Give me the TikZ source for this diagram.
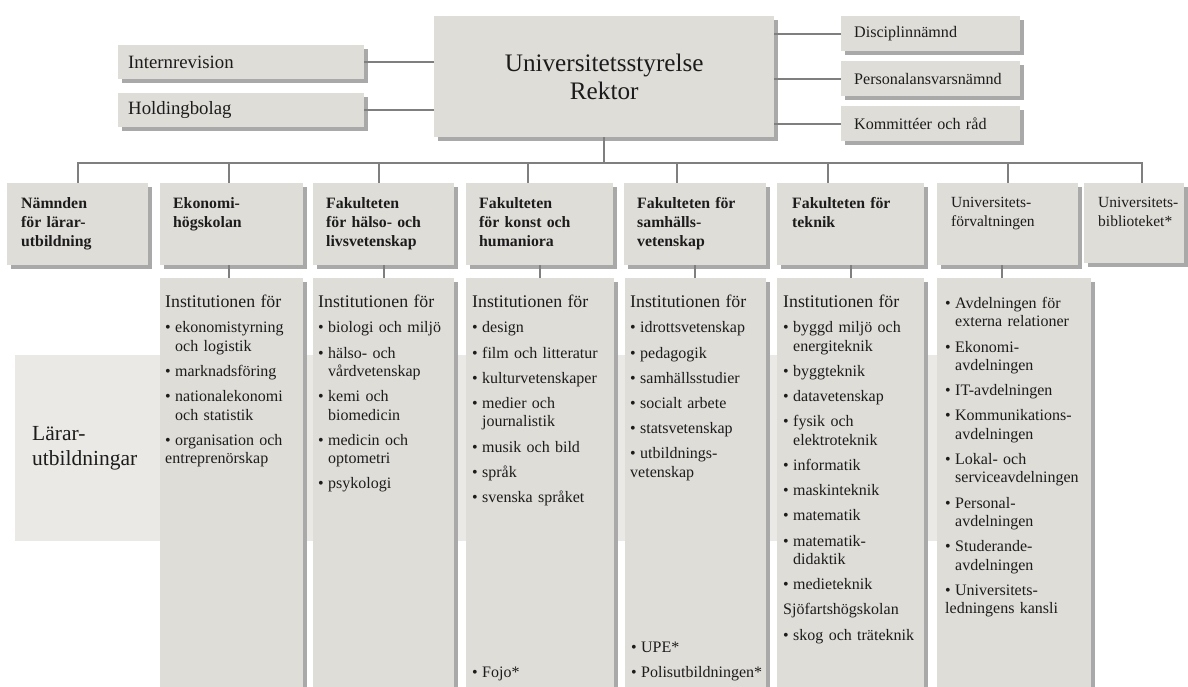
\documentclass[tikz,border=0pt]{standalone}
\usepackage{fontspec}
\setmainfont{Liberation Serif}
\usetikzlibrary{positioning,shadows}

\definecolor{boxfill}{HTML}{DFDDD8}
\definecolor{bandfill}{HTML}{EAE9E5}
\definecolor{shadowgray}{HTML}{A9A9A9}
\definecolor{linegray}{HTML}{7F7F7F}
\definecolor{inkgray}{HTML}{1C1C1C}

\newcommand{\instfont}{\fontsize{17.8}{18.4}\selectfont}
\newcommand{\listfont}{\fontsize{16}{18.4}\selectfont\parindent=0pt}
\newcommand{\bul}{\hangindent=10pt\hangafter=1\noindent\makebox[10pt][l]{\textbullet}}
\newcommand{\itm}{\par\vspace{6.8pt}\bul}
\newcommand{\sect}{\par\vspace{6.8pt}\noindent}
\newcommand{\nl}{\newline}

\begin{document}
\begin{tikzpicture}[
        x=1pt, y=-1pt,
        conn/.style={draw=linegray, line width=2pt},
        orgbox/.style={fill=boxfill, inner sep=0pt, anchor=north west, drop shadow={shadow xshift=4pt, shadow yshift=-4pt, fill=shadowgray, opacity=1}},
        sidebox/.style={orgbox, align=left, text=inkgray},
        hdrtxt/.style={anchor=north west, inner sep=0pt, text width=125pt, align=left, text=inkgray, font=\fontsize{15.5}{19.2}\selectfont},
        hdrbold/.style={hdrtxt, font=\fontsize{15.8}{19.2}\selectfont\bfseries},
        listtxt/.style={anchor=north west, inner sep=0pt, text width=150pt, align=left, text=inkgray, font=\listfont}
    ]
        \path[use as bounding box, fill=white] (0,0) rectangle (1188,687);
        \clip (0,0) rectangle (1188,687);
        % Lärarutbildningar i bakgrunden
        \node[fill=bandfill, anchor=north west, minimum width=1077pt, minimum height=186pt, inner xsep=17pt, inner ysep=0pt, text width=1043pt, align=left, text=inkgray, font=\fontsize{21.5}{24.3}\selectfont] (band) at (15,355) {Lärar-\\utbildningar};

        % Ledning
        \node[orgbox, minimum width=340pt, minimum height=121pt, align=center, text=inkgray, font=\fontsize{25.2}{28}\selectfont] (top) at (434,16) {Universitetsstyrelse\\Rektor};
        \node[sidebox, minimum width=246pt, minimum height=34pt, inner xsep=10pt, text width=226pt, font=\fontsize{18.8}{20}\selectfont] (intern) at (118,45) {Internrevision};
        \node[sidebox, minimum width=246pt, minimum height=34pt, inner xsep=10pt, text width=226pt, font=\fontsize{18.8}{20}\selectfont] (holding) at (118,93) {Holdingbolag};
        \node[sidebox, minimum width=179pt, minimum height=35pt, inner xsep=13pt, text width=153pt, font=\fontsize{16.1}{18}\selectfont] (discip) at (841,16) {Disciplinnämnd};
        \node[sidebox, minimum width=179pt, minimum height=35pt, inner xsep=13pt, text width=153pt, font=\fontsize{16.1}{18}\selectfont] (persn) at (841,61) {Personalansvarsnämnd};
        \node[sidebox, minimum width=179pt, minimum height=35pt, inner xsep=13pt, text width=153pt, font=\fontsize{16.1}{18}\selectfont] (komm) at (841,106) {Kommittéer och råd};
        \draw[conn] (intern.east) -- (intern.east -| top.west);
        \draw[conn] (holding.east) -- (holding.east -| top.west);
        \draw[conn] (discip.west) -- (discip.west -| top.east);
        \draw[conn] (persn.west) -- (persn.west -| top.east);
        \draw[conn] (komm.west) -- (komm.west -| top.east);

        % Fakulteter och enheter
        \node[orgbox, minimum width=141pt, minimum height=82pt] (nl) at (7,183) {};
        \node[orgbox, minimum width=143pt, minimum height=82pt] (eh) at (160,183) {};
        \node[orgbox, minimum width=141pt, minimum height=82pt] (hl) at (313,183) {};
        \node[orgbox, minimum width=147pt, minimum height=82pt] (kh) at (466,183) {};
        \node[orgbox, minimum width=142pt, minimum height=82pt] (sv) at (624,183) {};
        \node[orgbox, minimum width=147pt, minimum height=82pt] (ft) at (777,183) {};
        \node[orgbox, minimum width=141pt, minimum height=82pt] (uf) at (937,183) {};
        \node[orgbox, minimum width=100pt, minimum height=80pt] (ub) at (1084,183) {};
        \node[hdrbold, below right=14pt and 14pt of nl.north west] (nlt) {Nämnden\\för lärar-\\utbildning};
        \node[hdrbold, below right=14pt and 13pt of eh.north west] (eht) {Ekonomi-\\högskolan};
        \node[hdrbold, below right=14pt and 13pt of hl.north west] (hlt) {Fakulteten\\för hälso- och\\livsvetenskap};
        \node[hdrbold, below right=14pt and 13pt of kh.north west] (kht) {Fakulteten\\för konst och\\humaniora};
        \node[hdrbold, below right=14pt and 13pt of sv.north west] (svt) {Fakulteten för\\samhälls-\\vetenskap};
        \node[hdrbold, below right=14pt and 15pt of ft.north west] (ftt) {Fakulteten för\\teknik};
        \node[hdrtxt, below right=14pt and 14pt of uf.north west] (uft) {Universitets-\\förvaltningen};
        \node[hdrtxt, below right=14pt and 14pt of ub.north west] (ubt) {Universitets-\\biblioteket*};

        % Linjer till fakulteterna
        \coordinate (bus) at (0,163);
        \draw[conn] (top.south) -- (top.south |- bus);
        \draw[conn] (nl.north) -- (nl.north |- bus) -- ([xshift=8pt]ub.north |- bus) -- ([xshift=8pt]ub.north);
        \draw[conn] ([xshift=-3pt]eh.north) -- ([xshift=-3pt]eh.north |- bus);
        \draw[conn] ([xshift=-5pt]hl.north) -- ([xshift=-5pt]hl.north |- bus);
        \draw[conn] ([xshift=-12pt]kh.north) -- ([xshift=-12pt]kh.north |- bus);
        \draw[conn] ([xshift=-18pt]sv.north) -- ([xshift=-18pt]sv.north |- bus);
        \draw[conn] ([xshift=-23pt]ft.north) -- ([xshift=-23pt]ft.north |- bus);
        \draw[conn] (uf.north) -- (uf.north |- bus);

        % Institutioner och avdelningar
        \node[orgbox, minimum width=143pt, minimum height=430pt] (ehc) at (160,278) {};
        \node[orgbox, minimum width=141pt, minimum height=430pt] (hlc) at (313,278) {};
        \node[orgbox, minimum width=148pt, minimum height=430pt] (khc) at (466,278) {};
        \node[orgbox, minimum width=141pt, minimum height=430pt] (svc) at (625,278) {};
        \node[orgbox, minimum width=147pt, minimum height=430pt] (ftc) at (777,278) {};
        \node[orgbox, minimum width=154pt, minimum height=430pt] (ufc) at (937,278) {};
        \draw[conn] ([xshift=-3pt]eh.south) -- ([xshift=-3pt]eh.south |- ehc.north);
        \draw[conn] (hl.south) -- (hl.south |- hlc.north);
        \draw[conn] (kh.south) -- (kh.south |- khc.north);
        \draw[conn] (sv.south) -- (sv.south |- svc.north);
        \draw[conn] (ft.south) -- (ft.south |- ftc.north);
        \draw[conn] ([xshift=-6pt]uf.south) -- ([xshift=-6pt]uf.south |- ufc.north);

        \node[listtxt, below right=17pt and 5pt of ehc.north west] (ehl) {{\instfont Institutionen för}\itm ekonomistyrning\nl och logistik\itm marknadsföring\itm nationalekonomi\nl och statistik\itm organisation och\nl entreprenörskap};
        \node[listtxt, below right=17pt and 5pt of hlc.north west] (hll) {{\instfont Institutionen för}\itm biologi och miljö\itm hälso- och\nl vårdvetenskap\itm kemi och\nl biomedicin\itm medicin och\nl optometri\itm psykologi};
        \node[listtxt, below right=17pt and 6pt of khc.north west] (khl) {{\instfont Institutionen för}\itm design\itm film och litteratur\itm kulturvetenskaper\itm medier och\nl journalistik\itm musik och bild\itm språk\itm svenska språket};
        \node[listtxt, below right=17pt and 5pt of svc.north west] (svl) {{\instfont Institutionen för}\itm idrottsvetenskap\itm pedagogik\itm samhällsstudier\itm socialt arbete\itm statsvetenskap\itm utbildnings-\nl vetenskap};
        \node[listtxt, below right=17pt and 6pt of ftc.north west] (ftl) {{\instfont Institutionen för}\itm byggd miljö och\nl energiteknik\itm byggteknik\itm datavetenskap\itm fysik och\nl elektroteknik\itm informatik\itm maskinteknik\itm matematik\itm matematik-\nl didaktik\itm medieteknik\sect Sjöfartshögskolan\itm skog och träteknik};
        \node[listtxt, below right=19pt and 8pt of ufc.north west] (ufl) {\bul Avdelningen för\nl externa relationer\itm Ekonomi-\nl avdelningen\itm IT-avdelningen\itm Kommunikations-\nl avdelningen\itm Lokal- och\nl serviceavdelningen\itm Personal-\nl avdelningen\itm Studerande-\nl avdelningen\itm Universitets-\nl ledningens kansli};
        \node[listtxt] (fojo) at (472,667) {\bul Fojo*};
        \node[listtxt] (upe) at (631,642) {\bul UPE*\itm Polisutbildningen*};
    \end{tikzpicture}
\end{document}
